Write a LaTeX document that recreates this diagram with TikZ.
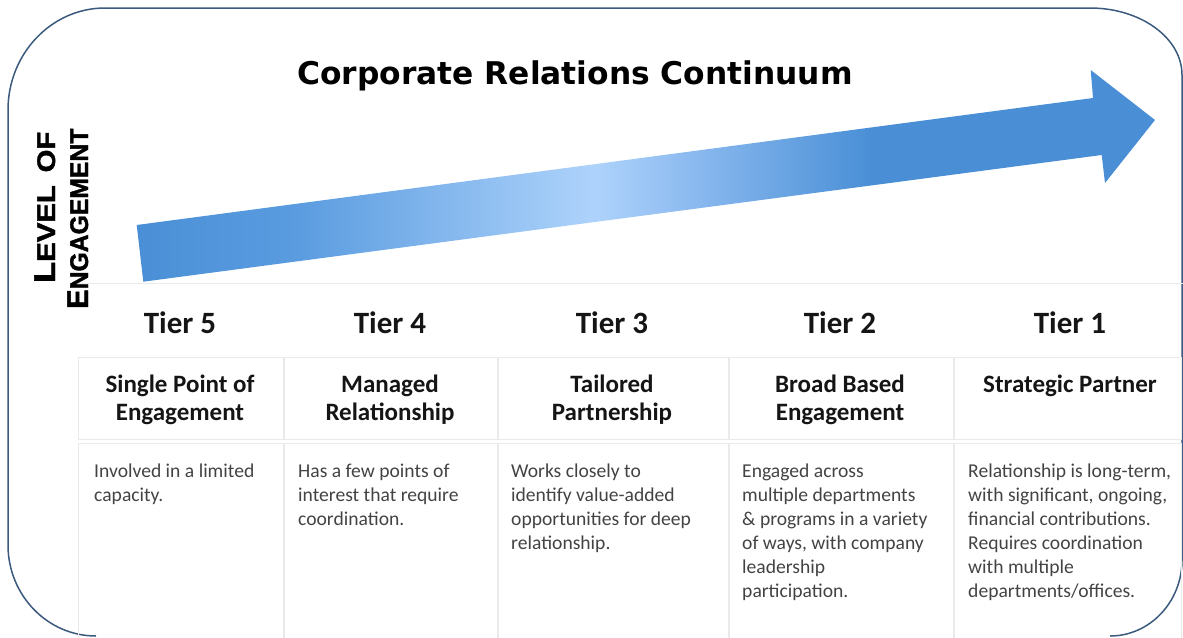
\documentclass[tikz,border=0pt]{standalone}
\usepackage{fontspec}
\setmainfont{Carlito}
\newfontfamily\titlefont{DejaVu Sans}
\newfontfamily\lvlfont{Liberation Sans}[BoldFeatures={FakeBold=1.6}]
\definecolor{ablue}{HTML}{4A8FD6}
\definecolor{ablueB}{HTML}{5B9CE0}
\definecolor{alight}{HTML}{AED3FB}
\definecolor{alightB}{HTML}{8DBBF0}
\definecolor{bordercol}{HTML}{3B5A7D}
\definecolor{gridcol}{HTML}{EAEAEA}
\definecolor{desccol}{HTML}{434343}
\definecolor{headcol}{HTML}{151515}
\pgfdeclarehorizontalshading{arrowshade}{100bp}{color(0bp)=(ablue); color(25bp)=(ablue); color(33bp)=(ablueB); color(47.5bp)=(alight); color(52bp)=(alightB); color(61bp)=(ablue); color(100bp)=(ablue)}
\newcommand{\dstrut}{\rule{0pt}{16pt}}
\newcommand{\hstrut}{\rule{0pt}{20pt}}
\begin{document}
\begin{tikzpicture}[x=1pt,y=-1pt,
  tiertxt/.style={font=\fontsize{31}{31}\selectfont\bfseries, text=headcol, anchor=base, inner sep=0pt},
  nametxt/.style={font=\fontsize{25}{28}\selectfont\bfseries, text=headcol, anchor=north, align=center, inner sep=0pt},
  desctxt/.style={font=\fontsize{19.6}{24}\selectfont, text=desccol, anchor=north west, align=left, inner sep=0pt},
  cellbox/.style={draw=gridcol, line width=0.8pt},
  lvltxt/.style={font=\lvlfont\bfseries, text=black, rotate=90, anchor=base west, inner sep=0pt}
]
\useasboundingbox (0,0) rectangle (1183,637);

% outer rounded frame
\draw[bordercol, line width=1.5pt]
  (96,636) .. controls (47.4,636) and (8,595.2) .. (8,545)
  -- (8,110) .. controls (8,53.7) and (51.5,8) .. (105,8)
  -- (1090,8) .. controls (1140.8,8) and (1182,38) .. (1182,75)
  -- (1182,560) .. controls (1182,602) and (1149.7,636) .. (1110,636);

% table grid
\draw[gridcol, line width=0.8pt] (78,283) -- (1183,283);
\foreach \xa/\xb in {78/283, 284/497, 498/728, 729/953, 954/1181} {
  \draw[cellbox] (\xa,357) rectangle (\xb,439);
  \draw[cellbox] (\xa,443) rectangle (\xb,645);
}

% arrow
\shade[shading=arrowshade]
  (136.7,225) -- (1093,98) -- (1090.7,70) -- (1155,120) -- (1105,183)
  -- (1101.7,155) -- (143.3,281.7) -- cycle;

% title
\node[font=\titlefont\bfseries\fontsize{31.3}{31.3}\selectfont, text=black, anchor=base] (title) at (575,84) {Corporate Relations Continuum};

% vertical label
\node[lvltxt] (lvlA) at (55,283) {\scalebox{1.15}[1]{\fontsize{30}{30}\selectfont L\fontsize{25.5}{25.5}\selectfont EVEL\hspace{4pt} OF}};
\node[lvltxt] (lvlB) at (88,309) {\scalebox{0.97}[1]{\fontsize{30}{30}\selectfont E\fontsize{25.5}{25.5}\selectfont NGAGEMENT}};

% tiers
\node[tiertxt] (t5) at (180,333) {Tier 5};
\node[tiertxt] (t4) at (390,333) {Tier 4};
\node[tiertxt] (t3) at (612,333) {Tier 3};
\node[tiertxt] (t2) at (840,333) {Tier 2};
\node[tiertxt] (t1) at (1070,333) {Tier 1};

% names
\node[nametxt] (n5) at (180,372) {\hstrut Single Point of\\Engagement};
\node[nametxt] (n4) at (390,372) {\hstrut Managed\\Relationship};
\node[nametxt] (n3) at (612,372) {\hstrut Tailored\\Partnership};
\node[nametxt] (n2) at (840,372) {\hstrut Broad Based\\Engagement};
\node[nametxt] (n1) at (1070,372) {\hstrut Strategic Partner};

% descriptions
\node[desctxt] (d5) at (94,461) {\dstrut Involved in a limited\\capacity.};
\node[desctxt] (d4) at (298,461) {\dstrut Has a few points of\\interest that require\\coordination.};
\node[desctxt] (d3) at (511,461) {\dstrut Works closely to\\identify value-added\\opportunities for deep\\relationship.};
\node[desctxt] (d2) at (742,461) {\dstrut Engaged across\\multiple departments\\\& programs in a variety\\of ways, with company\\leadership\\participation.};
\node[desctxt] (d1) at (968,461) {\dstrut Relationship is long-term,\\with significant, ongoing,\\financial contributions.\\Requires coordination\\with multiple\\departments/offices.};
\end{tikzpicture}
\end{document}
